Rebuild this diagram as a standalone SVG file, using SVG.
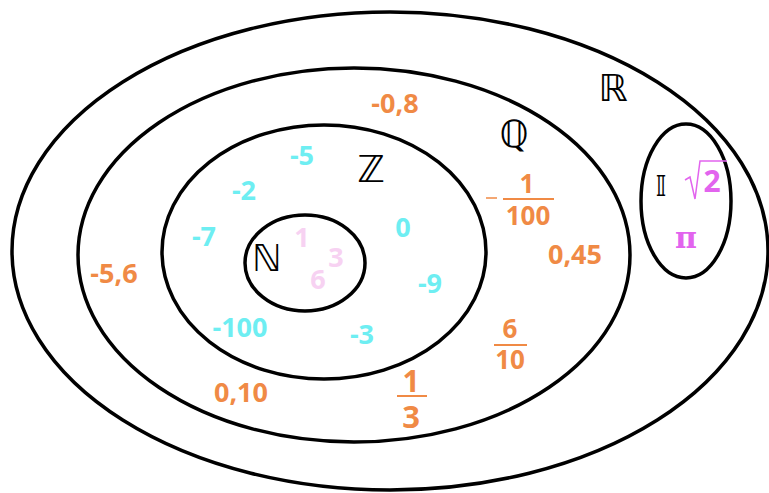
<svg xmlns="http://www.w3.org/2000/svg" width="769" height="493" viewBox="0 0 769 493">
<style>
.set{fill:none;stroke:#000;stroke-width:3.5}
.o{fill:#F08A45;font-family:"Open Sans",sans-serif;font-weight:700;font-size:27px;text-anchor:middle}
.c{fill:#6EEEF2;font-family:"Open Sans",sans-serif;font-weight:700;font-size:27px;text-anchor:middle}
.p{fill:#F7D2F2;font-family:"Open Sans",sans-serif;font-weight:700;font-size:27px;text-anchor:middle}
.m{fill:#E264EE;font-family:"Open Sans",sans-serif;font-weight:700;font-size:30px;text-anchor:middle}
.ds{fill:#000;font-family:"DejaVu Sans",sans-serif;font-size:37px;text-anchor:middle}
.bar{stroke:#F08A45;stroke-width:2}
</style>
<rect width="769" height="493" fill="#fff"/>
<g id="R"><ellipse class="set" cx="390" cy="251" rx="378" ry="239"/><text class="ds" x="613" y="101">ℝ</text></g>
<g id="Q"><ellipse class="set" cx="354" cy="255" rx="276" ry="187"/><text class="ds" x="514" y="147">ℚ</text></g>
<g id="Z"><ellipse class="set" cx="324" cy="252" rx="162" ry="127"/><text class="ds" x="371" y="182">ℤ</text></g>
<g id="N"><ellipse class="set" cx="305" cy="263" rx="60" ry="48"/><text class="ds" x="267" y="271">ℕ</text></g>
<g id="I"><ellipse class="set" cx="686" cy="201" rx="45" ry="77"/><text class="ds" x="661" y="196" style="font-size:28px">𝕀</text></g>
<g id="labels">
<text class="o" x="395" y="113">-0,8</text>
<text class="o" x="114" y="283">-5,6</text>
<text class="o" x="575" y="264">0,45</text>
<text class="o" x="241" y="402">0,10</text>
<text class="o" x="527" y="193" style="font-size:26px">1</text><line class="bar" x1="503" y1="199" x2="554" y2="199"/><text class="o" x="528" y="225" style="font-size:26px">100</text><line class="bar" x1="486" y1="198" x2="497" y2="198" style="stroke-width:1.5"/>
<text class="o" x="510" y="338" style="font-size:26px">6</text><line class="bar" x1="494" y1="345" x2="527" y2="345"/><text class="o" x="510" y="369" style="font-size:26px">10</text>
<text class="o" x="411" y="392" style="font-size:30px">1</text><line class="bar" x1="397" y1="396" x2="427" y2="396"/><text class="o" x="411" y="428" style="font-size:31px">3</text>
<text class="c" x="302" y="165">-5</text>
<text class="c" x="244" y="200">-2</text>
<text class="c" x="403" y="237">0</text>
<text class="c" x="204" y="246">-7</text>
<text class="c" x="430" y="293">-9</text>
<text class="c" x="240" y="337">-100</text>
<text class="c" x="362" y="344">-3</text>
<text class="p" x="302" y="247">1</text>
<text class="p" x="336" y="267">3</text>
<text class="p" x="318" y="289">6</text>
<path d="M685,180 L690,177 L695,199 L700,161 L727,161" fill="none" stroke="#E264EE" stroke-width="1.5"/>
<text class="m" x="712" y="192">2</text>
<text x="686" y="248" style="fill:#E264EE;font-family:'DejaVu Serif',serif;font-weight:700;font-size:30px;text-anchor:middle">π</text>
</g>
</svg>
